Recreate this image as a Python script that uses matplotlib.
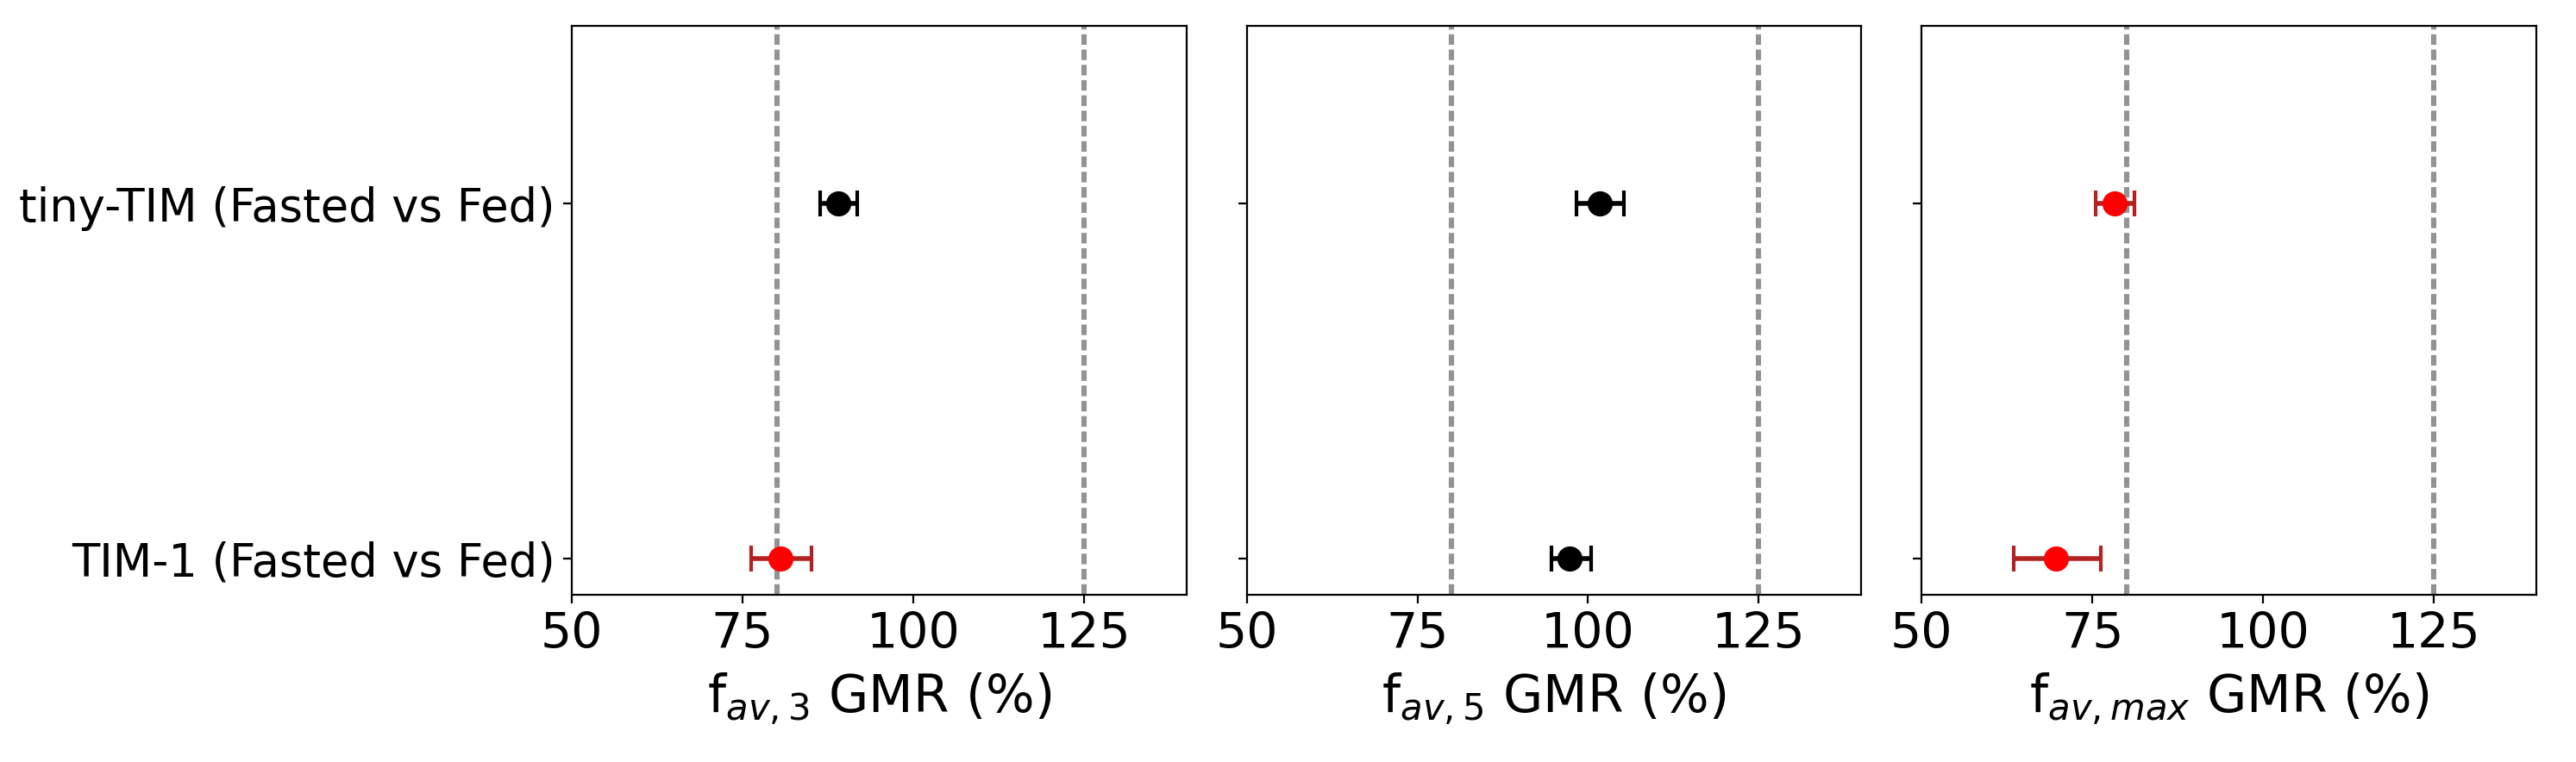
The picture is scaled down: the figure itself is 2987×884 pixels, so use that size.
import numpy as np
import matplotlib
matplotlib.use("Agg")
import matplotlib.pyplot as plt

# comparisons shown on the y axis (bottom to top)
comparisons = ["TIM-1 (Fasted vs Fed)", "tiny-TIM (Fasted vs Fed)"]

# GMR point estimates and 90% CI bounds (%), per metric, in the same order
metrics = [r"f$_{av,3}$ GMR (%)", r"f$_{av,5}$ GMR (%)", r"f$_{av,max}$ GMR (%)"]
gmr = [[80.6, 89.0], [97.3, 101.7], [69.7, 78.2]]
ci_low = [[76.2, 86.4], [94.6, 98.3], [63.5, 75.5]]
ci_high = [[85.1, 91.8], [100.5, 105.2], [76.3, 81.2]]

# bioequivalence limits
be_limits = [80, 125]

plt.rcParams["font.family"] = "DejaVu Sans"
plt.rcParams["font.size"] = 19

fig = plt.figure(figsize=(14.935, 4.42), dpi=200)
lefts = [0.222, 0.484, 0.746]
width = 0.2385
axes = [fig.add_axes([l, 0.22, width, 0.7455]) for l in lefts]

y = np.arange(len(comparisons))
for i, ax in enumerate(axes):
    for lim in be_limits:
        ax.axvline(lim, color="grey", alpha=0.85, lw=2.2, linestyle=(0, (2.0, 0.9)), zorder=1)
    for j in range(len(comparisons)):
        lo, hi, est = ci_low[i][j], ci_high[i][j], gmr[i][j]
        outside = lo < be_limits[0] or hi > be_limits[1]
        col = "red" if outside else "black"
        ecol = "firebrick" if outside else "black"
        ax.errorbar(est, y[j], xerr=[[est - lo], [hi - est]], fmt="o", color=col,
                    ecolor=ecol, markersize=9.5, elinewidth=2, capsize=5.5,
                    capthick=1.5, zorder=3)
    ax.set_xlim(50, 140)
    ax.set_ylim(-0.1, 1.5)
    ax.set_xticks([50, 75, 100, 125])
    ax.tick_params(axis="x", labelsize=20.5)
    ax.set_yticks(y)
    if i == 0:
        ax.set_yticklabels(comparisons)
    else:
        ax.set_yticklabels([])
    ax.set_xlabel(metrics[i], fontsize=21.5, labelpad=5)

fig.savefig("out.png", dpi=200)
